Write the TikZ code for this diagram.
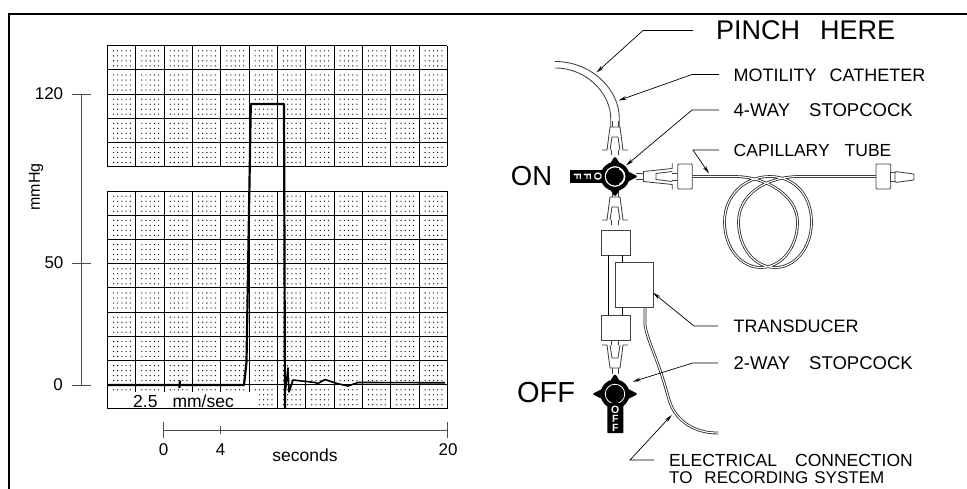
\documentclass[tikz,border=0pt]{standalone}
\usepackage{fontspec}
\usetikzlibrary{arrows.meta}
\setmainfont{Liberation Sans}
\tikzset{
  grid line/.style={black,line width=0.8pt},
  leader/.style={black,line width=0.7pt},
  leader tip/.style={leader,-{Stealth[length=8pt,width=3.6pt]}},
  part/.style={black!75,line width=0.85pt},
  tube/.style={black!85,line width=0.8pt,double=white,double distance=1.1pt},
  lbl/.style={inner sep=0pt,anchor=west,font=\fontsize{17.5}{17.5}\selectfont},
  num/.style={inner sep=0pt,font=\fontsize{17}{17}\selectfont},
  axis/.style={black!70,line width=0.9pt},
  trace/.style={black,line width=2.2pt,line join=round},
  offtxt/.style={inner sep=0pt,text=white,font=\bfseries\fontsize{10.5}{10.5}\selectfont},
  pics/luer/.style={code={
    \draw[part,fill=white] (-3,-6) -- (-3,0) (3,-6) -- (3,0);
    \draw[part,fill=white] (-13,23) -- (-8,23) -- (-5,0) -- (5,0) -- (8,23) -- (13,23);
    \draw[part] (-5,23) -- (-3,10) -- (3,10) -- (5,23);
    \draw[part] (-3.5,23) -- (-3.5,28) (3.5,23) -- (3.5,28);
  }},
  pics/stopbody/.style={code={
    \fill[black] (0,0) circle (14.5);
    \fill[black,rounded corners=1.5pt] (-5.5,-12) -- (0,-20.5) -- (5.5,-12) -- cycle;
    \fill[black,rounded corners=1.5pt] (-12,-5.5) -- (-23,0) -- (-12,5.5) -- cycle;
    \fill[black,rounded corners=1.5pt] (12,-5.5) -- (23,0) -- (12,5.5) -- cycle;
    \fill[black,rounded corners=1.5pt] (-5.5,12) -- (0,20.5) -- (5.5,12) -- cycle;
    \draw[white,line width=0.9pt] (0,0) circle (9.7);
  }},
}
\begin{document}
\begin{tikzpicture}[x=1pt,y=-1pt]
\useasboundingbox (0,0) rectangle (967,489);
\fill[white] (0,0) rectangle (967,489);
% frame
\draw[black,line width=2pt] (9,489) -- (9,14) -- (967,14);
% dots
\foreach \r in {0,...,4}\foreach \c in {0,...,11}\foreach \i in {0,...,4}\foreach \j in {0,...,3}
  \fill[black] ({107.3+28.33*\c+6.2+4.2*\i},{45.7+24.15*\r+5.2+5*\j}) circle (0.65);
\foreach \r in {0,...,8}\foreach \c in {0,...,11}\foreach \i in {0,...,4}\foreach \j in {0,...,3}
  \fill[black] ({107.3+28.33*\c+6.2+4.2*\i},{191+24.2*\r+5.2+5*\j}) circle (0.65);
% grids
\foreach \r in {0,...,5} \draw[grid line] (107.3,{45.7+24.15*\r}) -- (447.3,{45.7+24.15*\r});
\foreach \c in {0,...,12} \draw[grid line] ({107.3+28.33*\c},45.7) -- ({107.3+28.33*\c},166.5);
\foreach \r in {0,...,9} \draw[grid line] (107.3,{191+24.2*\r}) -- (447.3,{191+24.2*\r});
\foreach \c in {0,...,12} \draw[grid line] ({107.3+28.33*\c},191) -- ({107.3+28.33*\c},408.8);
% speed label patch
\fill[white] (107.9,392) rectangle (256,408.3);
\node[inner sep=0pt,anchor=west,font=\fontsize{17.5}{17.5}\selectfont] (speed) at (133,401.5) {2.5\hspace{15pt}mm/sec};
% trace
\draw[trace] (107,385) -- (244,385) -- (246.5,362) -- (250.8,104) -- (284,104) -- (285,408);
\draw[trace] (180,380.5) -- (179.5,388);
\draw[trace,line width=1.6pt] (285.5,390) -- (288,368) -- (289,392) -- (293,380) -- (302,381) -- (315,382.5) -- (318,383.5) -- (325,379.5) -- (337,383.5) -- (348,386) -- (358,382.5) -- (365,382.5) -- (445,382.8);
% axes
\coordinate (y120) at (81.5,94); \coordinate (y0) at (81.5,385);
\draw[axis] (y120) -- (y0);
\draw[axis] (72,94) -- (91,94) (72,263) -- (91,263) (72,385) -- (91,385);
\node[num] (l120) at (49,94) {120};
\node[num] (l50) at (54,263) {50};
\node[num] (l0) at (58,385) {0};
\node[inner sep=0pt,rotate=90,font=\fontsize{16}{16}\selectfont] (mm) at (36,187) {mmHg};
\coordinate (x0) at (163.5,430); \coordinate (x20) at (447.5,430);
\draw[axis] (x0) -- (x20);
\draw[axis] (163.5,422) -- (163.5,438) (220.5,426) -- (220.5,434) (447.5,422) -- (447.5,438);
\node[num] (t0) at (163.5,450) {0};
\node[num] (t4) at (220.5,450) {4};
\node[num] (t20) at (448,450) {20};
\node[inner sep=0pt,font=\fontsize{17.5}{17.5}\selectfont] (secs) at (305,455) {seconds};
% catheter
\draw[part] (555,61.5) .. controls (592,61.5) and (619.3,90) .. (619.3,118) -- (619.3,127);
\draw[part] (555,68) .. controls (588,68) and (610.7,95) .. (610.7,118) -- (610.7,127);
% fittings
\pic at (615,127) {luer};
\pic at (615,197) {luer};
\pic[rotate=180] at (615,368) {luer};
\pic[rotate=90,yscale=1.25] at (643.5,176.5) {luer};
% capillary tube
\draw[tube] (692,176.5) -- (735,176.5) .. controls (765,176.5) and (797.5,195) .. (797.5,222)
  .. controls (797.5,248) and (781,267.5) .. (761,267.5)
  .. controls (741,267.5) and (724.5,248) .. (724.5,222)
  .. controls (724.5,195) and (745,176.5) .. (770,176.5)
  .. controls (795,176.5) and (811.5,196) .. (811.5,222)
  .. controls (811.5,248) and (795,267.5) .. (775,267.5)
  .. controls (755,267.5) and (738.5,248) .. (738.5,222)
  .. controls (738.5,195) and (765,176.5) .. (800,176.5) -- (876,176.5);
% hubs
\draw[part,fill=white,rounded corners=1pt] (677.7,164) rectangle (692.3,189);
\draw[part,fill=white,rounded corners=1pt] (876,164) rectangle (890.7,189);
\draw[part,fill=white] (890.7,172.5) rectangle (895,181.5);
\draw[part,fill=white,rounded corners=1pt] (895,171.5) -- (914,174) -- (914,180) -- (895,182.5) -- cycle;
% stopcock on
\pic at (615,176.5) {stopbody};
\fill[black] (569.5,170) rectangle (605,183.3);
\fill[black] (615,176.5) circle (9);
\draw[white,line width=0.9pt] (615,176.5) circle (9.7);
\draw[white,line width=1.6pt] (616,176.5) ++(-65:8.6) arc (-65:65:8.6);
\node[offtxt,rotate=-90] (onO) at (598,176.5) {O};
\node[offtxt,rotate=-90] (onF1) at (587.5,176.5) {F};
\node[offtxt,rotate=-90] (onF2) at (577.5,176.5) {F};
% body
\node[part,draw,minimum width=29pt,minimum height=25pt,inner sep=0pt,fill=white] (boxa) at (615.5,242.5) {};
\node[part,draw,minimum width=29pt,minimum height=25pt,inner sep=0pt,fill=white] (boxb) at (615.5,327.5) {};
\draw[black,line width=0.8pt] (608.3,255) -- (608.3,315);
\draw[black,line width=0.8pt] (622.3,255) -- (622.3,315);
\node[part,draw,minimum width=38pt,minimum height=44.6pt,inner sep=0pt,fill=white] (trans) at (634,285) {};
% cable
\draw[tube] (645,307.5) -- (645,325) .. controls (647,338) and (654,352) .. (660,370)
  .. controls (667,390) and (669,404) .. (674,411) .. controls (683,425) and (698,433) .. (718,433);
% stopcock off
\pic at (615,394) {stopbody};
\fill[black,rounded corners=0.5pt] (607.3,403) rectangle (623.3,433);
\fill[black] (615,394) circle (9);
\node[offtxt] (offO) at (615.3,409.5) {O};
\node[offtxt] (offF1) at (615.3,418.7) {F};
\node[offtxt] (offF2) at (615.3,428) {F};
% state labels
\node[inner sep=0pt,font=\fontsize{27.5}{27.5}\selectfont] (on) at (531.5,176.5) {ON};
\node[inner sep=0pt,font=\fontsize{29}{29}\selectfont] (off) at (546,393) {OFF};
% right labels and leaders
\node[lbl,font=\fontsize{27}{27}\selectfont] (pinch) at (716,30.5) {PINCH\hspace{20pt}HERE};
\node[lbl,font=\fontsize{18}{18}\selectfont] (moti) at (733.5,75) {MOTILITY\hspace{13pt}CATHETER};
\node[lbl,font=\fontsize{18.5}{18.5}\selectfont] (four) at (733.5,110) {4-WAY\hspace{19pt}STOPCOCK};
\node[lbl] (capi) at (733.5,150) {CAPILLARY\hspace{15pt}TUBE};
\node[lbl,font=\fontsize{18}{18}\selectfont] (tran) at (733.5,326) {TRANSDUCER};
\node[lbl,font=\fontsize{18.5}{18.5}\selectfont] (two) at (733.5,363) {2-WAY\hspace{19pt}STOPCOCK};
\node[lbl] (elec) at (669,460) {ELECTRICAL\hspace{18pt}CONNECTION};
\node[lbl,font=\fontsize{17}{17}\selectfont] (recs) at (669,478) {TO\hspace{12pt}RECORDING\hspace{6pt}SYSTEM};
\coordinate (p1) at (693,30.5); \coordinate (p2) at (643,30.5); \coordinate (p3) at (596.5,72.5);
\draw[leader tip] (p1) -- (p2) -- (p3);
\coordinate (m1) at (719,74.5); \coordinate (m2) at (692,74.5); \coordinate (m3) at (618.5,100.5);
\draw[leader tip] (m1) -- (m2) -- (m3);
\coordinate (f1) at (719,110); \coordinate (f2) at (692,110); \coordinate (f3) at (626,165.5);
\draw[leader tip] (f1) -- (f2) -- (f3);
\coordinate (c1) at (719,150); \coordinate (c2) at (693,150); \coordinate (c3) at (709,173.5);
\draw[leader tip] (c1) -- (c2) -- (c3);
\coordinate (t1) at (718,326); \coordinate (t2) at (694,326); \coordinate (t3) at (653,292.7);
\draw[leader tip] (t1) -- (t2) -- (t3);
\coordinate (w1) at (718,363); \coordinate (w2) at (692.7,363); \coordinate (w3) at (632.7,381.7);
\draw[leader tip] (w1) -- (w2) -- (w3);
\coordinate (e1) at (654,460); \coordinate (e2) at (630,460); \coordinate (e3) at (671.7,415);
\draw[leader tip] (e1) -- (e2) -- (e3);
\end{tikzpicture}
\end{document}
